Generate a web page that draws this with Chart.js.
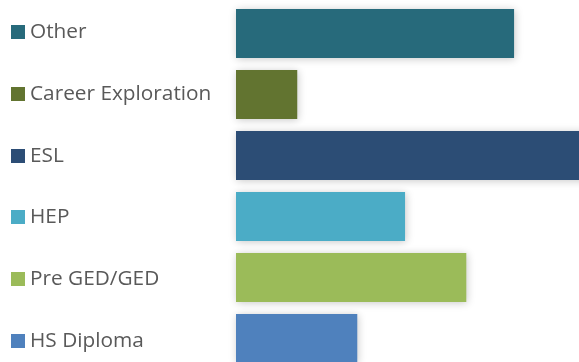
<!DOCTYPE html>
<html>
<head>
    <meta charset="UTF-8">
    <title>Programas</title>
    <script src="https://cdn.jsdelivr.net/npm/chart.js"></script>
    <style>
        html, body { margin: 0; padding: 0; background: #fff; overflow: hidden; }
        #chart { display: block; }
    </style>
</head>
<body>
    <canvas id="chart" width="579" height="369"></canvas>

    <script>
        // program categories, top to bottom
        var programs = ['Other', 'Career Exploration', 'ESL', 'HEP', 'Pre GED/GED', 'HS Diploma'];
        var enrolled = [22.7, 5.0, 30, 13.8, 18.8, 9.9];
        var barColors = ['#276A7B', '#627430', '#2C4D75', '#4BACC6', '#9BBB59', '#4F81BD'];
        var axisMax = 28;

        // soft drop shadow behind the bars
        var barShadow = {
            id: 'barShadow',
            beforeDatasetsDraw: function(chart) {
                var ctx = chart.ctx;
                ctx.save();
                ctx.shadowColor = 'rgba(0,0,0,0.22)';
                ctx.shadowBlur = 8;
                ctx.shadowOffsetX = 1;
                ctx.shadowOffsetY = 1;
            },
            afterDatasetsDraw: function(chart) {
                chart.ctx.restore();
            }
        };

        // labels on the left with a colour square, like a legend
        // (legend rows are spaced a little wider than the bars)
        var sideLabels = {
            id: 'sideLabels',
            afterDraw: function(chart) {
                var ctx = chart.ctx;
                var yScale = chart.scales.y;
                ctx.save();
                ctx.font = '20.8px "Open Sans"';
                ctx.textBaseline = 'middle';
                ctx.textAlign = 'left';
                programs.forEach(function(name, i) {
                    var y = yScale.getPixelForValue(i) - 1.5 + 0.8 * i;
                    ctx.fillStyle = barColors[i];
                    ctx.fillRect(11, Math.round(y - 7), 14, 14);
                    ctx.fillStyle = '#595959';
                    ctx.fillText(name, 30, y);
                });
                ctx.restore();
            }
        };

        var ctx = document.getElementById('chart').getContext('2d');
        var chart = new Chart(ctx, {
            type: 'bar',
            data: {
                labels: programs,
                datasets: [{
                    data: enrolled,
                    backgroundColor: barColors,
                    borderWidth: 0,
                    categoryPercentage: 1,
                    barPercentage: 0.803,
                    clip: false
                }]
            },
            options: {
                indexAxis: 'y',
                responsive: false,
                animation: false,
                devicePixelRatio: 1,
                layout: { padding: { left: 236, top: 3, right: 0, bottom: 0 } },
                plugins: {
                    legend: { display: false },
                    tooltip: { enabled: false }
                },
                scales: {
                    x: { display: false, min: 0, max: axisMax },
                    y: { display: false }
                }
            },
            plugins: [barShadow, sideLabels]
        });
    </script>
</body>
</html>
